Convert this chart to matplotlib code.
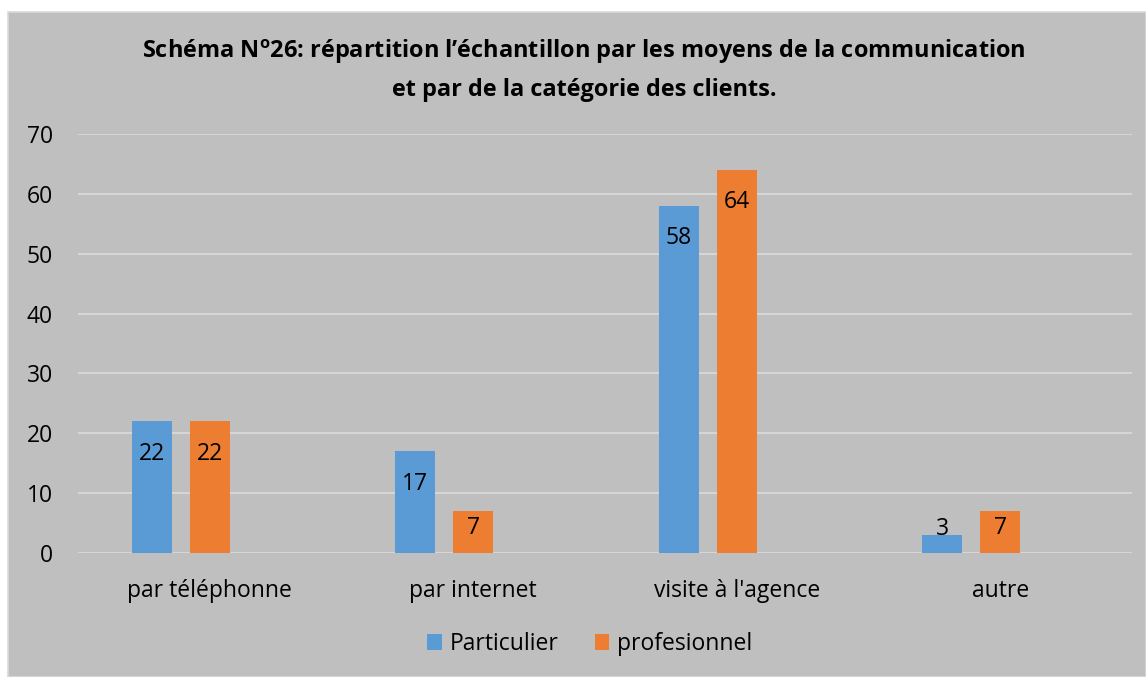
import matplotlib
matplotlib.use("Agg")
import matplotlib.pyplot as plt
import numpy as np
from matplotlib.patches import Rectangle

categories = ["par téléphonne", "par internet", "visite à l'agence", "autre"]
particulier = [22, 17, 58, 3]
professionnel = [22, 7, 64, 7]
series_names = ["Particulier", "profesionnel"]
yticks = [0, 10, 20, 30, 40, 50, 60, 70]

BLUE = "#5b9bd5"
ORANGE = "#ed7d31"
BG = "#bfbfbf"
GRID = "#d9d9d9"

plt.rcParams["font.family"] = ["Open Sans", "DejaVu Sans"]
plt.rcParams["mathtext.fontset"] = "custom"
plt.rcParams["mathtext.rm"] = "Open Sans:bold"
plt.rcParams["mathtext.bf"] = "Open Sans:bold"

FS = 16.5
TFS = 16.9
W, H = 1146, 677
PX = 100 / 72.0  # pixels per point
fig = plt.figure(figsize=(W / 100, H / 100), dpi=100)
fig.patch.set_facecolor("white")

# chart area
bgrect = Rectangle((8 / W, 0), 1 - 8 / W, 1 - 12 / H, transform=fig.transFigure,
                   facecolor=BG, edgecolor=GRID, linewidth=1.2, zorder=-10)
fig.patches.append(bgrect)

ax = fig.add_axes([78 / W, 1 - 553 / H, (1132 - 78) / W, (553 - 134) / H])
ax.set_zorder(5)
ax.patch.set_visible(False)
for s in ax.spines.values():
    s.set_visible(False)

x = np.arange(len(categories))
bw = 0.152
off = 0.22
b1 = ax.bar(x - off, particulier, width=bw, color=BLUE, label=series_names[0], zorder=3)
b2 = ax.bar(x, professionnel, width=bw, color=ORANGE, label=series_names[1], zorder=3)

ax.set_xlim(-0.5, len(categories) - 0.5)
ax.set_ylim(0, 70)
ax.set_yticks(yticks)
ax.set_yticklabels([str(v) for v in yticks], fontsize=FS, color="#000000")
ax.yaxis.grid(True, color=GRID, linewidth=1.3, zorder=1)
ax.set_axisbelow(True)
ax.tick_params(axis="y", length=0, pad=18)
ax.set_xticks(x)
ax.set_xticklabels(categories, fontsize=FS)
ax.tick_params(axis="x", length=0, pad=19)

px_per_unit = (553 - 134) / 70.0
for bars, vals in ((b1, particulier), (b2, professionnel)):
    for rect, v in zip(bars, vals):
        hpx = v * px_per_unit
        if hpx > 60:
            dy = -38.5      # baseline offset in pixels (inside end)
        elif hpx > 30:
            dy = -23
        else:
            dy = 0
        ax.annotate(str(v), (rect.get_x() + rect.get_width() / 2, v),
                    xytext=(0, dy / PX), textcoords="offset points",
                    ha="center", va="baseline", fontsize=FS, color="#000000", zorder=4)

fig.text(0.5 + 11 / W, 1 - 58 / H,
         "Schéma N$^{\\mathrm{o}}$26: répartition l’échantillon par les moyens de la communication",
         ha="center", va="baseline", fontsize=TFS, fontweight="bold")
fig.text(0.5 + 11 / W, 1 - 96 / H, "et par de la catégorie des clients.",
         ha="center", va="baseline", fontsize=TFS, fontweight="bold")

leg = fig.legend(loc="center", bbox_to_anchor=(590 / W, 1 - 644 / H), ncol=2, frameon=False,
                 fontsize=FS, handlelength=0.65, handleheight=0.65, handletextpad=0.35,
                 columnspacing=1.55)

fig.savefig("out.png", dpi=100, facecolor="white")
